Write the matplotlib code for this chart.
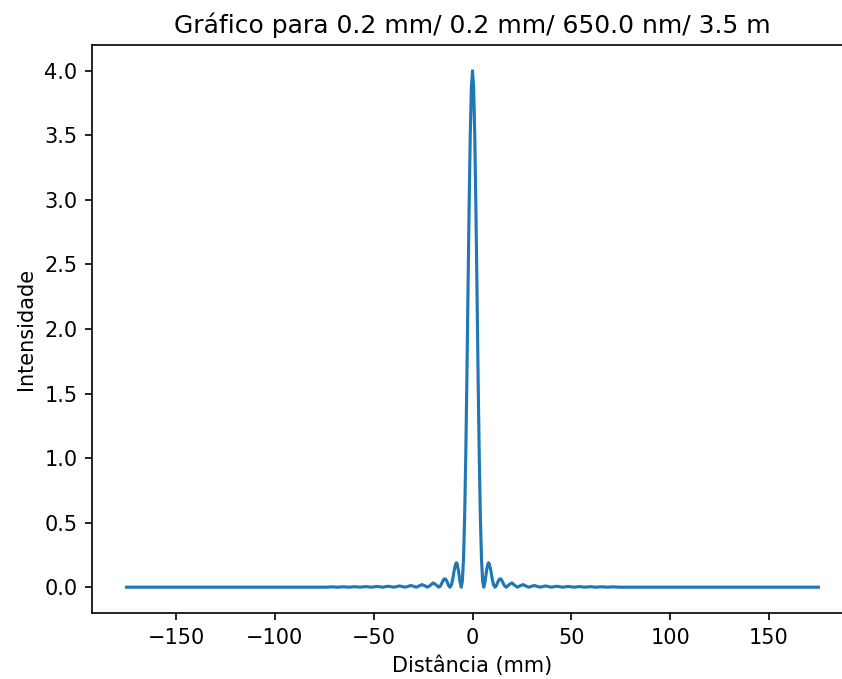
import numpy as np
import matplotlib
matplotlib.use("Agg")
import matplotlib.pyplot as plt

plt.rcParams['savefig.bbox'] = 'standard'

# Positive half of the diffraction pattern, mirrored for negative side
x_pos = [0.00, 0.57, 1.14, 1.71, 2.28, 2.84, 3.41, 3.98, 4.55, 5.12, 5.69,
         6.40, 7.11, 7.82, 8.13, 8.53, 9.24, 9.95, 10.66, 11.38,
         12.09, 12.80, 13.51, 14.22, 14.93, 15.64, 16.35, 17.06,
         18.48, 19.91, 21.33, 22.75,
         24.17, 25.59, 27.02, 28.44,
         29.86, 31.28, 32.70, 34.13,
         36.97, 39.81, 42.66, 45.50, 48.34, 51.19, 54.03, 56.88,
         59.72, 62.56, 65.41, 68.25, 71.09, 73.94, 175.0]
y_pos = [4.000, 3.870, 3.500, 2.947, 2.292, 1.621, 1.018, 0.541, 0.219, 0.048, 0.000,
         0.047, 0.130, 0.183, 0.189, 0.180, 0.131, 0.066, 0.017, 0.000,
         0.013, 0.040, 0.061, 0.065, 0.050, 0.027, 0.007, 0.000,
         0.019, 0.033, 0.014, 0.000,
         0.011, 0.020, 0.009, 0.000,
         0.007, 0.013, 0.006, 0.000,
         0.0096, 0.000, 0.0072, 0.000, 0.0056, 0.000, 0.0045, 0.000,
         0.0037, 0.000, 0.0031, 0.000, 0.0026, 0.000, 0.000]

xp = np.array(x_pos)
yp = np.array(y_pos)
x = np.concatenate([-xp[::-1], xp[1:]])
y = np.concatenate([yp[::-1], yp[1:]])

fig = plt.figure(figsize=(842/150, 679/150), dpi=150)
ax = fig.add_axes([92/842, 66/679, 761/842, 568/679])
ax.plot(x, y)
ax.set_title("Gráfico para 0.2 mm/ 0.2 mm/ 650.0 nm/ 3.5 m")
ax.set_xlabel("Distância (mm)")
ax.set_ylabel("Intensidade")
fig.savefig("out.png", dpi=150, bbox_inches=None)
